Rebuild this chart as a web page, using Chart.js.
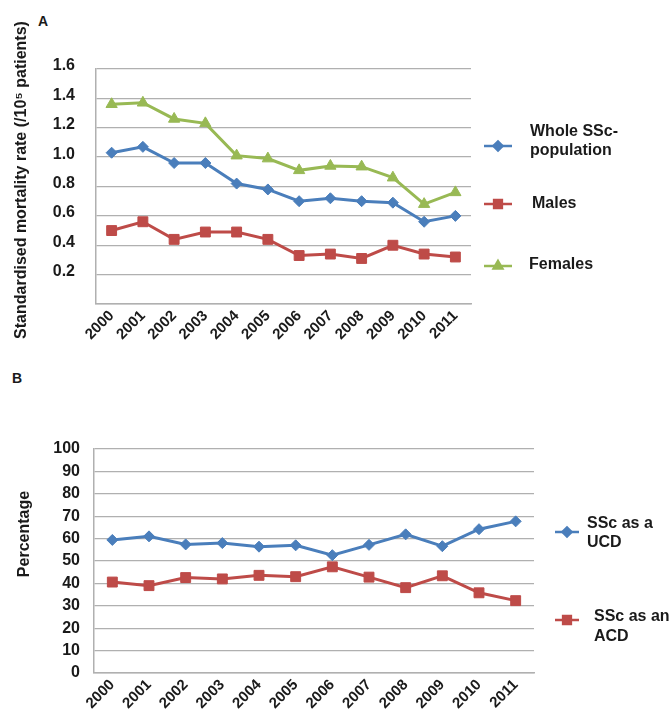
<!DOCTYPE html>
<html>
<head>
<meta charset="utf-8">
<script src="https://cdn.jsdelivr.net/npm/chart.js@4.4.1/dist/chart.umd.min.js"></script>
<style>
  html, body { margin: 0; padding: 0; background: #fff; }
  #wrap { position: relative; width: 670px; height: 710px; overflow: hidden; }
  canvas { position: absolute; left: 0; }
  .tag { position: absolute; font: bold 14px "Liberation Sans", Arial, sans-serif; color: #1a1a1a; }
</style>
</head>
<body>
<div id="wrap">
  <div class="tag" style="left:38px; top:13px;">A</div>
  <div class="tag" style="left:12px; top:370px;">B</div>
  <canvas id="chartA" width="670" height="350" style="top:0;"></canvas>
  <canvas id="chartB" width="670" height="350" style="top:360px;"></canvas>
</div>
<script>
// Years on both horizontal axes
const years = ['2000', '2001', '2002', '2003', '2004', '2005', '2006', '2007', '2008', '2009', '2010', '2011'];

// Panel A: standardised mortality rate per 10^5 patients
const wholeRate  = [1.03, 1.07, 0.96, 0.96, 0.82, 0.78, 0.70, 0.72, 0.70, 0.69, 0.56, 0.60];
const maleRate   = [0.50, 0.56, 0.44, 0.49, 0.49, 0.44, 0.33, 0.34, 0.31, 0.40, 0.34, 0.32];
const femaleRate = [1.36, 1.37, 1.26, 1.23, 1.01, 0.99, 0.91, 0.94, 0.935, 0.86, 0.68, 0.76];

// Panel B: share of SSc deaths by certificate position (%)
const ucdShare = [59.4, 61.0, 57.4, 58.0, 56.4, 57.0, 52.6, 57.2, 61.9, 56.6, 64.2, 67.7];
const acdShare = [40.6, 39.0, 42.6, 42.0, 43.6, 43.0, 47.4, 42.8, 38.1, 43.4, 35.8, 32.3];

const FONT = '"Liberation Sans", Arial, Helvetica, sans-serif';
const INK = '#1a1a1a';
const GRID = '#b0b0b0';
const BLUE = '#4a7ebb';
const RED = '#be4b48';
const GREEN = '#98b954';

// Legend drawn beside the plot: line segment with marker, then (multi-line) label
const sideLegend = {
  id: 'sideLegend',
  afterDraw(chart, args, opts) {
    if (!opts || !opts.items) return;
    const ctx = chart.ctx;
    ctx.save();
    opts.items.forEach(it => {
      const ds = chart.data.datasets[it.dataset];
      ctx.strokeStyle = ds.borderColor;
      ctx.lineWidth = 2.5;
      ctx.beginPath();
      ctx.moveTo(it.x0, it.y);
      ctx.lineTo(it.x1, it.y);
      ctx.stroke();
      ctx.fillStyle = ds.pointBackgroundColor;
      ctx.strokeStyle = ds.pointBorderColor;
      Chart.helpers.drawPoint(ctx, { pointStyle: ds.pointStyle, radius: it.r, borderWidth: 1, rotation: 0 },
        (it.x0 + it.x1) / 2, it.y);
      ctx.fillStyle = INK;
      ctx.font = 'bold 16px ' + FONT;
      ctx.textAlign = 'left';
      ctx.textBaseline = 'middle';
      it.lines.forEach((txt, i) => ctx.fillText(txt, it.tx, it.ty[i]));
    });
    ctx.restore();
  }
};

// Vertical axis caption placed freely at the left edge
const axisCaption = {
  id: 'axisCaption',
  afterDraw(chart, args, opts) {
    if (!opts || !opts.text) return;
    const ctx = chart.ctx;
    ctx.save();
    ctx.translate(opts.x, opts.y);
    ctx.rotate(-Math.PI / 2);
    ctx.fillStyle = INK;
    ctx.font = 'bold 16px ' + FONT;
    ctx.textAlign = 'center';
    ctx.textBaseline = 'middle';
    ctx.fillText(opts.text, 0, 0);
    ctx.restore();
  }
};

function lineSet(label, data, color, style, radius) {
  return {
    label, data,
    borderColor: color,
    backgroundColor: color,
    pointBackgroundColor: color,
    pointBorderColor: color,
    pointStyle: style,
    pointRadius: radius,
    pointBorderWidth: 1,
    borderWidth: 3,
    tension: 0
  };
}

function baseOptions(cfg) {
  return {
    responsive: false,
    animation: false,
    events: [],
    layout: { padding: { top: cfg.top, right: cfg.right, bottom: 0, left: 0 } },
    plugins: {
      legend: { display: false },
      tooltip: { enabled: false },
      sideLegend: { items: cfg.legend },
      axisCaption: cfg.caption
    },
    scales: {
      x: {
        offset: true,
        grid: { display: false, drawTicks: false },
        border: { display: true, color: GRID, width: 1.5 },
        ticks: {
          color: INK, font: { family: FONT, size: 15, weight: 'bold' },
          minRotation: 45, maxRotation: 45, autoSkip: false, padding: 3
        },
        afterFit(scale) { scale.height = cfg.xHeight; }
      },
      y: {
        min: cfg.min, max: cfg.max,
        grid: { color: GRID, lineWidth: 1.3, drawTicks: false },
        border: { display: true, color: GRID, width: 1.5 },
        ticks: {
          stepSize: cfg.step, color: INK, padding: cfg.tickPad,
          labelOffset: cfg.labelOffset || 0,
          font: { family: FONT, size: 16, weight: 'bold' },
          callback: cfg.tickFmt
        },
        afterFit(scale) { scale.width = cfg.yWidth; }
      }
    }
  };
}

new Chart(document.getElementById('chartA'), {
  type: 'line',
  data: {
    labels: years,
    datasets: [
      lineSet('Whole SSc-population', wholeRate, BLUE, 'rectRot', 5.5),
      lineSet('Males', maleRate, RED, 'rect', 7),
      lineSet('Females', femaleRate, GREEN, 'triangle', 6.5)
    ]
  },
  options: baseOptions({
    top: 69, right: 199, xHeight: 46, yWidth: 96, tickPad: 21, labelOffset: -3,
    min: 0, max: 1.6, step: 0.2,
    tickFmt: v => (v === 0 ? '' : v.toFixed(1)),
    caption: { text: 'Standardised mortality rate (/10\u2075 patients)', x: 22, y: 180 },
    legend: [
      { dataset: 0, x0: 484, x1: 512, y: 146, r: 4.5, lines: ['Whole SSc-', 'population'], tx: 530, ty: [132, 151] },
      { dataset: 1, x0: 484, x1: 512, y: 204, r: 5.5, lines: ['Males'], tx: 532, ty: [204] },
      { dataset: 2, x0: 484, x1: 512, y: 266, r: 5, lines: ['Females'], tx: 529, ty: [265] }
    ]
  }),
  plugins: [sideLegend, axisCaption]
});

new Chart(document.getElementById('chartB'), {
  type: 'line',
  data: {
    labels: years,
    datasets: [
      lineSet('SSc as a UCD', ucdShare, BLUE, 'rectRot', 5.5),
      lineSet('SSc as an ACD', acdShare, RED, 'rect', 7)
    ]
  },
  options: baseOptions({
    top: 89, right: 136, xHeight: 37, yWidth: 94, tickPad: 14,
    min: 0, max: 100, step: 10,
    tickFmt: v => String(v),
    caption: { text: 'Percentage', x: 25, y: 174 },
    legend: [
      { dataset: 0, x0: 555, x1: 579, y: 172, r: 4.5, lines: ['SSc as a', 'UCD'], tx: 587, ty: [164, 183] },
      { dataset: 1, x0: 555, x1: 579, y: 260, r: 5.5, lines: ['SSc as an', 'ACD'], tx: 594, ty: [257, 277] }
    ]
  }),
  plugins: [sideLegend, axisCaption]
});
</script>
</body>
</html>
